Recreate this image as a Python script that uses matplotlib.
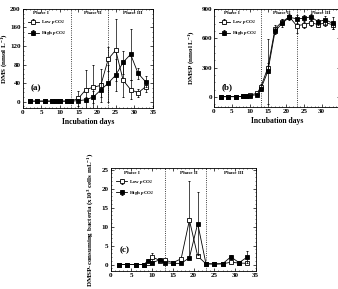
import matplotlib
matplotlib.use('Agg')
import matplotlib.pyplot as plt
import numpy as np

plt.rcParams['font.family'] = ['Liberation Serif', 'DejaVu Serif']
plt.rcParams['font.weight'] = 'bold'
plt.rcParams['mathtext.fontset'] = 'custom'
plt.rcParams['mathtext.rm'] = 'Liberation Serif:bold'
plt.rcParams['mathtext.it'] = 'Liberation Serif:italic:bold'
plt.rcParams['mathtext.bf'] = 'Liberation Serif:bold'

days = [2, 4, 6, 8, 9, 10, 12, 13, 15, 17, 19, 21, 23, 25, 27, 29, 31, 33]

# DMS (nmol L-1)
dms_low = [1, 1, 1, 1, 1, 1, 1, 1, 7, 26, 31, 35, 92, 111, 46, 26, 19, 32]
dms_low_err = [1, 1, 1, 1, 1, 1, 1, 1, 16, 43, 47, 35, 25, 67, 35, 20, 8, 12]
dms_high = [1, 1, 1, 1, 1, 1, 1, 1, 2, 4, 10, 25, 40, 57, 85, 102, 61, 43]
dms_high_err = [1, 1, 1, 1, 1, 1, 1, 1, 3, 5, 12, 15, 40, 35, 25, 55, 12, 12]

# DMSP (nmol L-1)
dmsp_low = [5, 5, 5, 8, 12, 20, 40, 100, 300, 700, 770, 820, 730, 740, 760, 740, 760, 740]
dmsp_low_err = [3, 3, 3, 3, 4, 5, 10, 30, 50, 40, 30, 20, 80, 30, 30, 25, 30, 40]
dmsp_high = [5, 5, 5, 8, 10, 15, 25, 82, 262, 672, 755, 815, 800, 805, 820, 770, 790, 755]
dmsp_high_err = [3, 3, 3, 3, 4, 5, 10, 20, 330, 30, 40, 30, 40, 30, 30, 30, 40, 60]

# DMSP-consuming bacteria
bac_low = [0, 0, 0, 0, 0.4, 2.0, 1.0, 1.2, 0.5, 1.5, 11.7, 2.2, 0.2, 0.2, 0.2, 0.6, 0.4, 0.3]
bac_low_err = [0.1, 0.1, 0.1, 0.1, 0.3, 1.1, 0.3, 0.3, 0.2, 0.3, 10.2, 0.5, 0.1, 0.1, 0.1, 0.3, 0.2, 0.2]
bac_high = [0, 0, 0, 0, 1.0, 0.5, 1.3, 0.5, 0.3, 0.3, 1.8, 10.8, 0.2, 0.1, 0.2, 2.0, 0.5, 2.0]
bac_high_err = [0.1, 0.1, 0.1, 0.1, 0.4, 0.3, 0.3, 0.2, 0.1, 0.1, 0.4, 8.3, 0.1, 0.1, 0.1, 0.5, 0.2, 1.6]

fig = plt.figure(figsize=(3.38, 2.89), dpi=100)
ax_a = fig.add_axes([0.0666, 0.626, 0.386, 0.343])
ax_b = fig.add_axes([0.633, 0.630, 0.372, 0.339])
ax_c = fig.add_axes([0.3275, 0.0623, 0.429, 0.356])

fs = 5


def draw(ax, low, low_err, high, high_err, ylim, yticks, ylabel, tag, label_xpos, label_x=True):
    ax.errorbar(days, low, yerr=low_err, fmt='-s', color='black', mfc='white',
                mec='black', ms=3.2, lw=0.6, elinewidth=0.5, capsize=1, capthick=0.5,
                mew=0.6, label='Low $\\mathit{p}$CO$_2$', zorder=3)
    ax.errorbar(days, high, yerr=high_err, fmt='-s', color='black', mfc='black',
                mec='black', ms=3.2, lw=0.6, elinewidth=0.5, capsize=1, capthick=0.5,
                mew=0.6, label='High $\\mathit{p}$CO$_2$', zorder=4)
    ax.axvline(13, color='black', ls=':', lw=0.6)
    ax.axvline(23, color='black', ls=':', lw=0.6)
    ax.set_xlim(0, 35)
    ax.set_ylim(*ylim)
    ax.set_xticks(range(0, 36, 5))
    ax.set_yticks(yticks)
    ax.tick_params(labelsize=fs, direction='in', length=2, width=0.5, pad=1.5,
                   top=True, right=True)
    ax.minorticks_on()
    ax.tick_params(which='minor', direction='in', length=1, width=0.4, top=True, right=True)
    for s in ax.spines.values():
        s.set_linewidth(0.6)
    ax.set_ylabel(ylabel, fontsize=fs, fontweight='bold')
    ax.yaxis.set_label_coords(label_xpos, 0.5)
    if label_x:
        ax.set_xlabel('Incubation days', fontsize=fs + 0.5, fontweight='bold', labelpad=2)
    for txt, x in [('Phase I', 5), ('Phase II', 18.8), ('Phase III', 29.6)]:
        ax.text(x, 0.955, txt, transform=ax.get_xaxis_transform(), ha='center',
                va='center', fontsize=3.6, fontweight='bold')
    ax.text(0.06, 0.18, tag, transform=ax.transAxes, fontsize=fs + 1.5, fontweight='bold')
    leg = ax.legend(loc='upper left', bbox_to_anchor=(0.02, 0.93), fontsize=3.6,
                    frameon=False, handlelength=2.2, handletextpad=0.4,
                    borderaxespad=0.1, labelspacing=0.6)
    for t in leg.get_texts():
        t.set_fontweight('bold')


draw(ax_a, dms_low, dms_low_err, dms_high, dms_high_err, (-14, 200),
     range(0, 201, 40), 'DMS (nmol L$^{-1}$)', '(a)', -0.1)
draw(ax_b, dmsp_low, dmsp_low_err, dmsp_high, dmsp_high_err, (-100, 900),
     [0, 300, 600, 900], 'DMSP (nmol L$^{-1}$)', '(b)', -0.14)
draw(ax_c, bac_low, bac_low_err, bac_high, bac_high_err, (-1.7, 25.4),
     range(0, 26, 5), 'DMSP-consuming bacteria (x10$^{3}$ cells mL$^{-1}$)',
     '(c)', -0.11, label_x=False)

# panel (b) runs off the right edge of the picture, so its last tick label is not shown
ax_b.set_xticklabels(['0', '5', '10', '15', '20', '25', '30', ''])

fig.savefig('out.png', dpi=100)
